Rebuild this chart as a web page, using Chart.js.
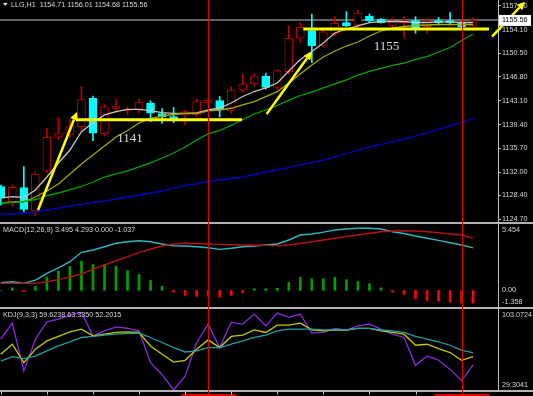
<!DOCTYPE html>
<html><head><meta charset="utf-8">
<script src="https://cdn.jsdelivr.net/npm/chart.js@4.4.1/dist/chart.umd.min.js"></script>
<style>
html,body{margin:0;padding:0;background:#000;width:533px;height:396px;overflow:hidden;}
canvas{position:absolute;left:0;z-index:1;}
.sep{position:absolute;left:0;width:533px;height:2px;background:#b4b4b4;z-index:0;}
</style></head><body>
<div class="sep" style="top:222px"></div>
<div class="sep" style="top:307px"></div>
<div class="sep" style="top:390px"></div>
<canvas id="main" width="533" height="224" style="top:0"></canvas>
<canvas id="macd" width="533" height="85" style="top:224px"></canvas>
<canvas id="kdj" width="533" height="87" style="top:309px"></canvas>
<script>
// ---------- DATA ----------
const SYMBOL = 'LLG,H1';
const OPEN  = [1129.79,1127.23,1129.64,1125.99,1132.20,1137.42,1137.78,1139.07,1143.48,1137.97,1141.82,1141.58,1141.74,1142.70,1141.12,1140.65,1140.81,1140.89,1142.75,1143.14,1141.51,1144.76,1145.70,1146.94,1145.18,1147.60,1152.79,1153.97,1151.59,1153.45,1155.21,1154.85,1156.25,1155.74,1154.70,1155.21,1155.52,1154.59,1155.52,1155.52,1155.12,1154.71];
const HIGH  = [1130.02,1130.02,1132.89,1132.09,1138.82,1140.53,1140.19,1145.31,1143.83,1142.44,1143.32,1142.17,1143.45,1143.10,1141.89,1142.05,1141.66,1143.32,1143.52,1143.76,1145.23,1147.25,1147.25,1147.36,1147.87,1154.70,1155.21,1156.56,1154.39,1156.14,1156.92,1157.18,1156.56,1155.89,1155.89,1156.14,1156.14,1155.89,1156.05,1156.76,1155.36,1156.01];
const LOW   = [1126.92,1126.76,1125.88,1125.21,1131.88,1137.08,1137.42,1138.40,1136.90,1137.63,1141.27,1140.89,1141.20,1139.85,1139.57,1139.69,1139.33,1140.62,1142.44,1140.58,1141.15,1144.45,1145.39,1144.87,1144.87,1147.25,1152.10,1149.00,1151.39,1153.14,1154.59,1154.54,1155.21,1155.12,1154.59,1152.94,1153.56,1153.56,1154.85,1154.85,1154.49,1154.68];
const CLOSE = [1127.96,1129.67,1126.22,1131.73,1137.42,1138.01,1139.10,1143.26,1138.05,1142.17,1142.28,1141.82,1142.90,1141.15,1140.62,1140.22,1141.40,1142.95,1143.17,1141.71,1144.76,1145.70,1146.83,1145.18,1147.76,1152.79,1154.49,1151.59,1153.81,1155.12,1154.70,1156.71,1155.52,1155.21,1155.36,1155.52,1154.34,1155.52,1155.21,1155.21,1154.59,1155.56];

const MA_WHITE = [1128.01,1128.21,1128.08,1129.25,1131.26,1133.44,1135.45,1138.29,1139.69,1140.89,1141.40,1141.77,1141.77,1141.55,1141.24,1141.15,1141.15,1141.20,1141.66,1141.97,1142.75,1143.76,1144.53,1145.08,1145.85,1147.71,1149.50,1150.74,1152.06,1153.61,1154.23,1154.70,1155.21,1155.36,1155.39,1155.36,1155.24,1155.24,1155.32,1155.32,1155.24,1155.24];
const MA_OLIVE = [1127.23,1127.38,1127.38,1128.16,1129.09,1130.18,1131.73,1133.28,1134.68,1136.07,1137.47,1138.48,1139.64,1140.34,1140.73,1140.96,1141.15,1141.12,1141.51,1141.66,1141.93,1142.44,1142.95,1143.73,1144.50,1145.85,1147.25,1148.64,1149.89,1150.82,1151.59,1152.21,1153.14,1153.92,1154.39,1154.62,1154.77,1154.85,1154.93,1154.93,1154.93,1154.93];
const MA_GREEN = [1127.23,1127.31,1127.46,1127.77,1128.39,1128.78,1129.32,1129.79,1130.49,1131.26,1131.73,1132.20,1132.82,1133.44,1134.21,1134.99,1135.92,1137.01,1137.94,1138.48,1139.26,1140.19,1141.04,1141.66,1142.36,1143.14,1143.91,1144.45,1145.08,1145.70,1146.32,1147.09,1147.64,1148.13,1148.57,1148.95,1149.50,1149.96,1150.66,1151.36,1152.45,1153.45];
const MA_BLUE  = [1125.37,1125.52,1125.68,1125.83,1126.14,1126.45,1126.76,1127.00,1127.31,1127.54,1127.85,1128.16,1128.47,1128.78,1129.09,1129.56,1129.95,1130.18,1130.53,1130.80,1131.03,1131.26,1131.65,1132.04,1132.35,1132.74,1133.13,1133.51,1133.90,1134.37,1134.91,1135.45,1135.92,1136.31,1136.70,1137.16,1137.63,1138.14,1138.64,1139.18,1139.72,1140.37];

const PRICE_TICKS = [1157.80,1154.10,1150.50,1146.80,1143.10,1139.40,1135.70,1132.00,1128.40,1124.70];

const MACD_TITLE = 'MACD(12,26,9) 3.495 4.293 0.000 -1.037';
const MACD_DIF  = [0.63,0.71,0.58,0.85,1.40,1.86,2.36,3.13,3.32,3.59,3.87,4.00,4.08,4.00,3.81,3.67,3.65,3.59,3.51,3.37,3.46,3.59,3.65,3.73,3.81,4.14,4.55,4.63,4.79,4.96,5.04,5.10,5.10,5.04,4.82,4.67,4.47,4.28,4.11,3.92,3.73,3.495];
const MACD_DEA  = [0.58,0.58,0.58,0.58,0.71,0.89,1.12,1.35,1.73,2.09,2.44,2.78,3.10,3.40,3.65,3.81,3.87,3.85,3.81,3.78,3.75,3.73,3.71,3.70,3.66,3.73,3.85,4.00,4.14,4.28,4.43,4.55,4.69,4.82,4.88,4.90,4.88,4.82,4.73,4.63,4.55,4.293];
const MACD_HIST = [0.00,0.22,-0.10,0.33,1.09,1.59,1.97,2.41,2.13,2.13,2.00,1.64,1.31,0.82,0.36,-0.14,-0.41,-0.49,-0.49,-0.55,-0.41,-0.19,0.14,0.14,0.19,0.66,1.09,0.96,0.96,1.09,0.88,0.74,0.55,0.22,-0.14,-0.33,-0.68,-0.82,-0.88,-0.96,-1.04,-1.037];
const MACD_TICK_LABELS = ['5.454','0.00','-1.358'];

const KDJ_TITLE = 'KDJ(9,3,3) 59.6238 63.3350 52.2015';
const KDJ_K = [61.82,70.99,54.22,66.41,74.01,78.05,82.26,84.74,78.60,80.15,81.71,82.26,81.71,69.43,61.82,54.77,56.32,66.41,74.93,67.96,78.05,79.24,84.10,81.71,88.40,88.40,90.24,84.10,83.18,84.10,83.82,85.38,85.38,83.18,81.71,80.15,70.07,70.99,67.05,63.38,56.32,59.6238];
const KDJ_D = [55.68,59.71,57.88,60.26,64.85,69.43,73.10,77.13,78.05,79.24,80.15,80.80,81.07,77.13,72.55,67.96,63.93,64.85,67.96,67.96,70.99,74.01,77.13,79.24,83.18,84.74,84.74,84.74,84.10,84.10,84.10,85.38,85.38,84.10,83.18,81.71,78.05,75.57,73.10,70.07,65.49,63.3350];
const KDJ_J = [75.57,90.24,46.52,75.57,91.43,93.90,97.57,100.05,78.60,83.18,86.85,85.38,83.18,54.22,43.49,29.30,41.93,72.55,89.32,67.96,90.88,89.32,98.49,87.76,99.40,95.46,98.49,81.07,81.71,85.38,83.82,87.76,89.32,84.74,80.15,77.13,51.74,60.26,56.60,48.07,37.99,52.2015];
const KDJ_TICK_LABELS = ['103.0724','29.3041'];

// drawn objects (candle index, price)
const VLINE_INDEX = [18, 40];
const LEVEL_LINES = [[6.53, 20.94, 1140.16], [26.26, 42.38, 1154.23]];
const LEVEL_TEXT  = [['1141', 11.22, 1137.16], ['1155', 33.48, 1151.44]];
const ARROWS = [[3.23, 1126.14, 6.61, 1141.35], [23.08, 1141.04, 26.99, 1150.71], [42.64, 1153.04, 45.5, 1158.47]];
const TIME_TICK_INDEX = [0,4,8,12,16,20,24,28,32,36,40];

// ---------- RENDER ----------
const FONT = '"Liberation Sans", Arial, sans-serif';
const TXT = '#d8d8d8', AXIS = '#c0c0c0';
const RED_C = '#c00000', CYAN_C = '#00ffff';
const X_MIN = -0.07, X_MAX = 43.16;
const idx = CLOSE.map((_, i) => i);
const up = idx.map(i => CLOSE[i] >= OPEN[i]);

function fixAxis(s){ s.width = 35; s.paddingTop = 0; s.paddingBottom = 0; s.paddingLeft = 0; s.paddingRight = 0; }
function lineDs(arr, color, w){
  return {type:'line', data: arr.map((v,i)=>({x:i,y:v})), borderColor:color, borderWidth:w, pointRadius:0, tension:0, fill:false, order:1};
}
function xScale(){ return {type:'linear', min:X_MIN, max:X_MAX, display:false, offset:false}; }
function baseOpts(padBottom){
  return {responsive:false, animation:false, devicePixelRatio:1,
    layout:{padding:{left:0,right:0,top:0,bottom:padBottom}},
    plugins:{legend:{display:false}, tooltip:{enabled:false}}, events:[]};
}
function drawVLines(c){
  const ctx=c.ctx; ctx.save(); ctx.strokeStyle='#e00000'; ctx.lineWidth=1;
  VLINE_INDEX.forEach(k=>{ const x=Math.round(c.scales.x.getPixelForValue(k))+0.5;
    ctx.beginPath(); ctx.moveTo(x,0); ctx.lineTo(x,c.height); ctx.stroke(); });
  ctx.restore();
}
function drawRightLabels(c, labels){
  const ctx=c.ctx, a=c.chartArea, y=c.scales.y;
  ctx.save(); ctx.font='7.2px '+FONT; ctx.fillStyle=TXT; ctx.textAlign='left'; ctx.textBaseline='middle';
  labels.forEach(t=>{ let py=y.getPixelForValue(parseFloat(t)); py=Math.min(Math.max(py,a.top+6.5),a.bottom-4.5);
    ctx.fillText(t, a.right+4, py); });
  ctx.restore();
}
function drawTitle(c, text, x, yc){
  const ctx=c.ctx; ctx.save(); ctx.font='7.2px '+FONT; ctx.fillStyle=TXT; ctx.textAlign='left'; ctx.textBaseline='middle';
  ctx.fillText(text, x, yc); ctx.restore();
}
function arrow(ctx,x1,y1,x2,y2,head){
  const a=Math.atan2(y2-y1,x2-x1);
  const bx=x2-head*Math.cos(a), by=y2-head*Math.sin(a);
  ctx.beginPath(); ctx.moveTo(x1,y1); ctx.lineTo(bx,by); ctx.stroke();
  const hw=head*0.5;
  ctx.beginPath(); ctx.moveTo(x2,y2);
  ctx.lineTo(bx+hw*Math.sin(a), by-hw*Math.cos(a));
  ctx.lineTo(bx-hw*Math.sin(a), by+hw*Math.cos(a));
  ctx.closePath(); ctx.fill();
}

const mainOverlay = {
  id:'mainOverlay',
  beforeDatasetsDraw(c){
    const ctx=c.ctx, a=c.chartArea;
    const y=Math.round(c.scales.y.getPixelForValue(CLOSE[CLOSE.length-1]));
    ctx.save(); ctx.strokeStyle='#808080'; ctx.lineWidth=1.6;
    ctx.beginPath(); ctx.moveTo(a.left,y); ctx.lineTo(a.right,y); ctx.stroke(); ctx.restore();
  },
  afterDraw(c){
    const ctx=c.ctx, xs=c.scales.x, ys=c.scales.y, a=c.chartArea;
    ctx.save();
    // level lines
    ctx.strokeStyle='#ffff00'; ctx.lineWidth=3;
    LEVEL_LINES.forEach(([k1,k2,p])=>{ const y=ys.getPixelForValue(p);
      ctx.beginPath(); ctx.moveTo(xs.getPixelForValue(k1),y); ctx.lineTo(xs.getPixelForValue(k2),y); ctx.stroke(); });
    // arrows
    ctx.lineWidth=2.5; ctx.fillStyle='#ffff00';
    ARROWS.forEach(([k1,p1,k2,p2])=>arrow(ctx,xs.getPixelForValue(k1),ys.getPixelForValue(p1),xs.getPixelForValue(k2),ys.getPixelForValue(p2),8));
    // text labels
    ctx.font='13px "Liberation Serif", serif'; ctx.fillStyle='#dcdcdc'; ctx.textAlign='center'; ctx.textBaseline='middle';
    LEVEL_TEXT.forEach(([t,k,p])=>ctx.fillText(t, xs.getPixelForValue(k), ys.getPixelForValue(p)));
    ctx.restore();
    drawVLines(c);
    // title
    ctx.save(); ctx.fillStyle='#e8e8e8';
    ctx.beginPath(); ctx.moveTo(3,3); ctx.lineTo(7.5,3); ctx.lineTo(5.25,6); ctx.closePath(); ctx.fill(); ctx.restore();
    const last=CLOSE.length-1;
    drawTitle(c, SYMBOL+'  '+[OPEN[last],HIGH[last],LOW[last],CLOSE[last]].map(v=>v.toFixed(2)).join(' '), 11, 4.8);
    // current price box
    const py=ys.getPixelForValue(CLOSE[last]);
    ctx.save(); ctx.fillStyle='#ffffff'; ctx.fillRect(a.right+1, py-5.5, 32, 11);
    ctx.font='7.2px '+FONT; ctx.fillStyle='#000'; ctx.textAlign='left'; ctx.textBaseline='middle';
    ctx.fillText(CLOSE[last].toFixed(2), a.right+4, py); ctx.restore();
  }
};

new Chart(document.getElementById('main'), {
  type:'bar',
  data:{datasets:[
    {type:'bar', data: idx.map(i=>({x:i,y:[LOW[i],HIGH[i]]})), backgroundColor: idx.map(i=>up[i]?RED_C:CYAN_C),
     borderWidth:0, barThickness:1, grouped:false, order:3},
    {type:'bar', data: idx.map(i=>({x:i,y:[Math.min(OPEN[i],CLOSE[i]),Math.max(OPEN[i],CLOSE[i])]})),
     backgroundColor: idx.map(i=>up[i]?'#000000':CYAN_C), borderColor: idx.map(i=>up[i]?RED_C:CYAN_C),
     borderWidth:1, borderSkipped:false, barThickness:8, grouped:false, order:2},
    lineDs(MA_BLUE,'#0000c8',1.3),
    lineDs(MA_GREEN,'#00a800',1.3),
    lineDs(MA_OLIVE,'#a8a800',1.3),
    lineDs(MA_WHITE,'#c4c4c4',1.3)
  ]},
  options: Object.assign(baseOpts(2), {
    scales:{
      x: xScale(),
      y: {position:'right', min:1124.28, max:1158.73, afterFit:fixAxis,
          afterBuildTicks: s=>{ s.ticks = PRICE_TICKS.map(v=>({value:v})); },
          ticks:{color:TXT, font:{size:7.2, family:FONT}, padding:1, autoSkip:false, callback:v=>Number(v).toFixed(2)},
          grid:{display:true, drawOnChartArea:false, drawTicks:true, tickLength:3, color:AXIS},
          border:{display:true, color:AXIS, width:1}}
    }
  }),
  plugins:[mainOverlay]
});

const macdOverlay = {
  id:'macdOverlay',
  afterDraw(c){ drawRightLabels(c, MACD_TICK_LABELS); drawTitle(c, MACD_TITLE, 3, 6); drawVLines(c); }
};
new Chart(document.getElementById('macd'), {
  type:'bar',
  data:{datasets:[
    {type:'bar', data: idx.map(i=>({x:i,y:MACD_HIST[i]})), backgroundColor: MACD_HIST.map(v=>v>=0?'#00a000':'#ff0000'),
     borderWidth:0, barThickness:2, grouped:false, order:2},
    lineDs(MACD_DEA,'#b41414',1.4),
    lineDs(MACD_DIF,'#30b4c0',1.4)
  ]},
  options: Object.assign(baseOpts(2), {
    scales:{ x: xScale(),
      y:{position:'right', min:-1.358, max:5.454, afterFit:fixAxis, ticks:{display:false},
         grid:{display:false}, border:{display:true, color:AXIS, width:1}} }
  }),
  plugins:[macdOverlay]
});

const kdjOverlay = {
  id:'kdjOverlay',
  afterDraw(c){
    drawRightLabels(c, KDJ_TICK_LABELS); drawTitle(c, KDJ_TITLE, 3, 6);
    const ctx=c.ctx, a=c.chartArea, xs=c.scales.x;
    ctx.save();
    ctx.fillStyle='#e00000';
    VLINE_INDEX.forEach(k=>{ const x=xs.getPixelForValue(k); ctx.fillRect(x-27, a.bottom+4, 55, 4); });
    ctx.strokeStyle='#c8c8c8'; ctx.lineWidth=1;
    TIME_TICK_INDEX.forEach(k=>{ const x=Math.round(xs.getPixelForValue(k))+0.5;
      ctx.beginPath(); ctx.moveTo(x,a.bottom+2); ctx.lineTo(x,a.bottom+4.5); ctx.stroke(); });
    ctx.restore();
    drawVLines(c);
  }
};
new Chart(document.getElementById('kdj'), {
  type:'line',
  data:{datasets:[
    lineDs(KDJ_D,'#1ea0a0',1.3),
    lineDs(KDJ_K,'#c8c800',1.3),
    lineDs(KDJ_J,'#8a2be2',1.3)
  ]},
  options: Object.assign(baseOpts(6), {
    scales:{ x: xScale(),
      y:{position:'right', min:29.3041, max:103.0724, afterFit:fixAxis, ticks:{display:false},
         grid:{display:false}, border:{display:true, color:AXIS, width:1}} }
  }),
  plugins:[kdjOverlay]
});
</script></body></html>
